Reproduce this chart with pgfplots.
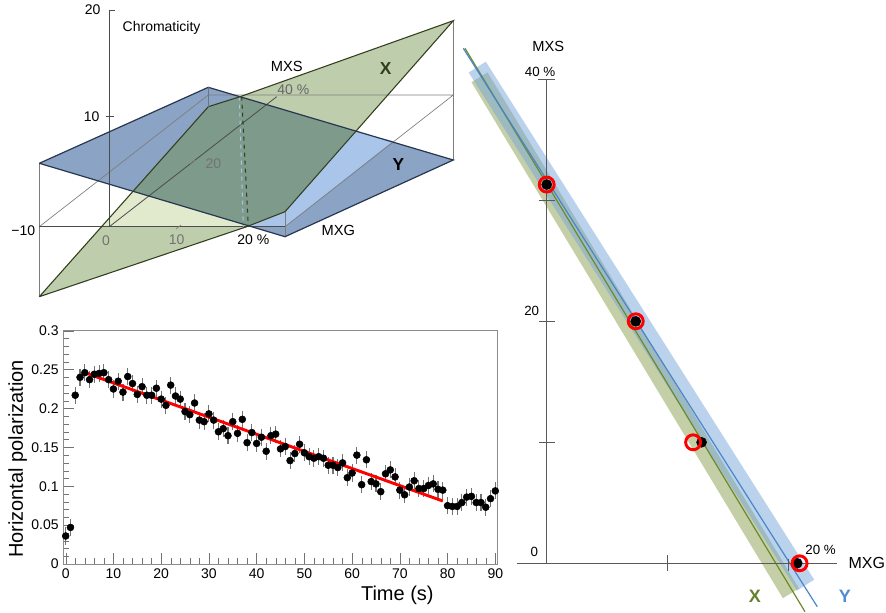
\documentclass[border=0pt]{standalone}
\usepackage{pgfplots}
\pgfplotsset{compat=1.18}
\usepackage{fontspec}
\setmainfont{Liberation Sans}
\newcommand{\fs}[1]{\fontsize{#1}{#1}\selectfont}
\definecolor{yfill}{RGB}{139,163,196}
\definecolor{yedge}{RGB}{40,55,80}
\definecolor{xfill}{RGB}{110,145,70}
\definecolor{xedge}{RGB}{50,62,28}
\definecolor{pale}{RGB}{226,234,206}
\definecolor{ribbon}{RGB}{170,197,234}
\definecolor{boxgray}{RGB}{125,125,125}
\definecolor{bandblue}{RGB}{120,165,220}
\definecolor{bandgreen}{RGB}{140,160,80}
\definecolor{lineblue}{RGB}{74,134,200}
\definecolor{linegreen}{RGB}{107,138,42}
\definecolor{xlab}{RGB}{100,130,45}
\definecolor{ylab}{RGB}{80,140,210}

\pgfplotstableread{
t p
0 0.036
1 0.047
2 0.217
3 0.240
4 0.246
5 0.237
6 0.244
7 0.245
8 0.246
9 0.237
10 0.225
11 0.235
12 0.221
13 0.241
14 0.232
15 0.218
16 0.228
17 0.217
18 0.217
19 0.226
20 0.212
21 0.204
22 0.230
23 0.216
24 0.212
25 0.196
26 0.192
27 0.207
28 0.185
29 0.183
30 0.193
31 0.185
32 0.170
33 0.174
34 0.165
35 0.183
36 0.168
37 0.186
38 0.156
39 0.169
40 0.155
41 0.163
42 0.145
43 0.165
44 0.167
45 0.148
46 0.151
47 0.133
48 0.142
49 0.154
50 0.143
51 0.138
52 0.136
53 0.138
54 0.136
55 0.127
56 0.127
57 0.124
58 0.130
59 0.111
60 0.117
61 0.140
62 0.102
63 0.134
64 0.106
65 0.103
66 0.093
67 0.116
68 0.121
69 0.112
70 0.095
71 0.089
72 0.099
73 0.107
74 0.097
75 0.097
76 0.101
77 0.103
78 0.096
79 0.095
80 0.075
81 0.074
82 0.074
83 0.079
84 0.086
85 0.087
86 0.079
87 0.079
88 0.073
89 0.084
90 0.094
}\poldata

\begin{document}
\begin{tikzpicture}
\useasboundingbox (0,0) rectangle (664.5pt,459pt);

% ---------------- 3D sketch (projected coordinates) ----------------
\begin{axis}[at={(0pt,0pt)}, anchor=south west, scale only axis,
  width=664.5pt, height=459pt, xmin=0, xmax=886, ymin=0, ymax=612,
  y dir=reverse, hide axis, clip=false]
% Y plane
\addplot[fill=yfill, draw=none] coordinates {(39.3,163.3) (208.3,87.3) (453.3,160) (285,236.7) (39.3,163.3)};
% X plane
\addplot[fill=xfill, fill opacity=0.45, draw=none] coordinates {(39.3,296.7) (208.3,106.7) (240,96.7) (453.3,20.7) (285,211.7) (246.7,226.7) (39.3,296.7)};
% pale part and light ribbon
\addplot[fill=pale, draw=none] coordinates {(101.6,226.7) (132.7,191.4) (250,226.7) (101.6,226.7)};
\addplot[fill=ribbon, draw=none] coordinates {(248.3,226) (285,211.7) (355,131.7) (393,141) (285,226.7) (248.3,226)};
% box lines
\addplot[boxgray, line width=0.5pt] coordinates {(39.3,163.3) (39.3,296.7)};
\addplot[boxgray, line width=0.5pt] coordinates {(39.3,226.7) (208.3,95) (453.3,95) (285,226.7)};
\addplot[boxgray, line width=0.5pt] coordinates {(453.3,20.7) (453.3,160)};
\addplot[boxgray, line width=0.5pt] coordinates {(208.3,87.3) (208.3,95)};
\addplot[boxgray, line width=0.5pt] coordinates {(285,211.7) (285,236.7)};
\addplot[black!70, line width=0.6pt] coordinates {(39.3,226.7) (285,226.7)};
\addplot[black!70, line width=0.6pt] coordinates {(109.3,226.7) (276.7,96.7)};
\addplot[black!70, line width=0.6pt] coordinates {(109.3,10) (109.3,226.7)};
\addplot[black!70, line width=0.6pt] coordinates {(109.3,10) (115,10)};
\addplot[black!70, line width=0.6pt] coordinates {(106,116.7) (114,116.7)};
\addplot[black!50, line width=0.5pt] coordinates {(190,163.5) (195,160)};
\addplot[black!50, line width=0.5pt] coordinates {(176,229) (181,225)};
% dashed intersection lines
\addplot[ribbon, dashed, line width=0.8pt] coordinates {(239.3,96.7) (243.3,226.7)};
\addplot[xedge, dashed, line width=0.8pt] coordinates {(241.7,96.7) (248.3,226.7)};
% outlines
\addplot[yedge, line width=0.9pt] coordinates {(39.3,163.3) (208.3,87.3) (453.3,160) (285,236.7) (39.3,163.3)};
\addplot[xedge, line width=0.8pt] coordinates {(39.3,296.7) (208.3,106.7) (240,96.7) (453.3,20.7) (285,211.7) (246.7,226.7) (39.3,296.7)};
\addplot[yedge!70, line width=0.6pt] coordinates {(208.3,106.7) (208.3,87.3)};
% labels
\node[anchor=west, font=\fs{10.5}] at (axis cs:118,28.3) {Chromaticity};
\node[font=\fs{10.5}] at (axis cs:92.7,10) {20};
\node[font=\fs{10.5}] at (axis cs:91.7,116.7) {10};
\node[font=\fs{10.5}] at (axis cs:23.3,231) {\char"2212 10};
\node[font=\fs{10.5}, text=black!55] at (axis cs:106,240.7) {0};
\node[font=\fs{10.5}, text=black!55] at (axis cs:176.7,239.3) {10};
\node[font=\fs{10.5}] at (axis cs:253.3,240) {20 \%};
\node[font=\fs{10.5}, text=black!55] at (axis cs:213.3,163.3) {20};
\node[font=\fs{10.5}, text=black!60] at (axis cs:293.3,89.3) {40 \%};
\node[font=\fs{11}] at (axis cs:286.7,66.7) {MXS};
\node[font=\fs{11}] at (axis cs:338.3,230) {MXG};
\node[font=\bfseries\fs{13}, text=xedge] at (axis cs:385.7,68.3) {X};
\node[font=\bfseries\fs{13}] at (axis cs:398.3,165) {Y};
\end{axis}

% ---------------- time series ----------------
\begin{axis}[at={(47.475pt,36pt)}, anchor=south west, scale only axis,
  width=325.8pt, height=175pt,
  xmin=-0.5, xmax=90.5, ymin=0, ymax=0.3,
  xtick distance=10, ytick distance=0.05,
  minor x tick num=4, minor y tick num=4,
  tick align=inside, xtick pos=bottom, ytick pos=left,
  major tick length=8pt, minor tick length=4.5pt,
  axis line style={black!45}, tick style={black!55},
  /pgf/number format/assume math mode=true,
  tick label style={font=\fs{10.5}},
  yticklabel style={/pgf/number format/fixed, /pgf/number format/precision=2},
  xlabel={Time (s)}, ylabel={Horizontal polarization},
  xlabel style={at={(axis description cs:0.769,-0.133)}, anchor=center, font=\fs{15}},
  ylabel style={at={(axis description cs:-0.105,0.45)}, anchor=center, font=\fs{15}},
  clip=false]
\addplot[only marks, mark=*, mark size=2.6pt, black,
  error bars/.cd, y dir=both, y fixed=0.011, error mark=none,
  error bar style={black!55, line width=0.8pt}] table[x=t, y=p] {\poldata};
\addplot[red, line width=2.2pt] coordinates {(4,0.246) (79,0.081)};
\end{axis}

% ---------------- right panel ----------------
\begin{axis}[at={(337.425pt,-8.85pt)}, anchor=south west, scale only axis,
  width=308.55pt, height=444.675pt, xmin=-8, xmax=26, ymin=-5, ymax=44,
  hide axis, clip=false]
\addplot[fill=bandgreen, fill opacity=0.5, draw=none] coordinates {(-6.220,39.76) (-4.888,40.57) (20.848,-2.079) (19.516,-2.883) (-6.220,39.76)};
\addplot[fill=bandblue, fill opacity=0.5, draw=none] coordinates {(-6.449,40.56) (-5.035,41.46) (22.106,-1.353) (20.692,-2.250) (-6.449,40.56)};
\addplot[linegreen, line width=0.9pt] coordinates {(-6.752,42.56) (21.347,-4.0)};
\addplot[lineblue, line width=0.9pt] coordinates {(-6.893,42.56) (22.364,-3.587)};
% axes
\addplot[black!65, line width=0.7pt] coordinates {(-2.48,0) (23.97,0)};
\addplot[black!65, line width=0.7pt] coordinates {(0,0) (0,40)};
\addplot[black!65, line width=0.7pt] coordinates {(-0.7,40) (0.7,40)};
\addplot[black!65, line width=0.7pt] coordinates {(-0.65,30) (0.65,30)};
\addplot[black!65, line width=0.7pt] coordinates {(-0.65,20) (0.65,20)};
\addplot[black!65, line width=0.7pt] coordinates {(-0.65,10) (0.65,10)};
\addplot[black!65, line width=0.7pt] coordinates {(10,-0.65) (10,0.65)};
\addplot[black!65, line width=0.7pt] coordinates {(20,-0.6) (20,0.35)};
% points
\addplot[only marks, mark=*, mark size=3.75pt, black] coordinates {(0,31.3) (7.36,20.0) (12.8,10.0) (20.7,0)};
\addplot[only marks, mark=o, mark size=5.6pt, red, line width=2.2pt] coordinates {(0,31.3) (7.36,20.0) (12.1,10.0) (20.9,0)};
% labels
\node[font=\fs{11}] at (axis cs:0.13,42.69) {MXS};
\node[font=\fs{10}] at (axis cs:-0.55,40.65) {40 \%};
\node[font=\fs{10}] at (axis cs:-1.24,20.87) {20};
\node[font=\fs{10}] at (axis cs:-1.02,0.92) {0};
\node[font=\fs{10}] at (axis cs:22.64,1.10) {20 \%};
\node[font=\fs{12}] at (axis cs:26.45,0) {MXG};
\node[font=\bfseries\fs{13.5}, text=xlab] at (axis cs:17.21,-2.76) {X};
\node[font=\bfseries\fs{13.5}, text=ylab] at (axis cs:24.65,-2.76) {Y};
\end{axis}
\end{tikzpicture}
\end{document}
